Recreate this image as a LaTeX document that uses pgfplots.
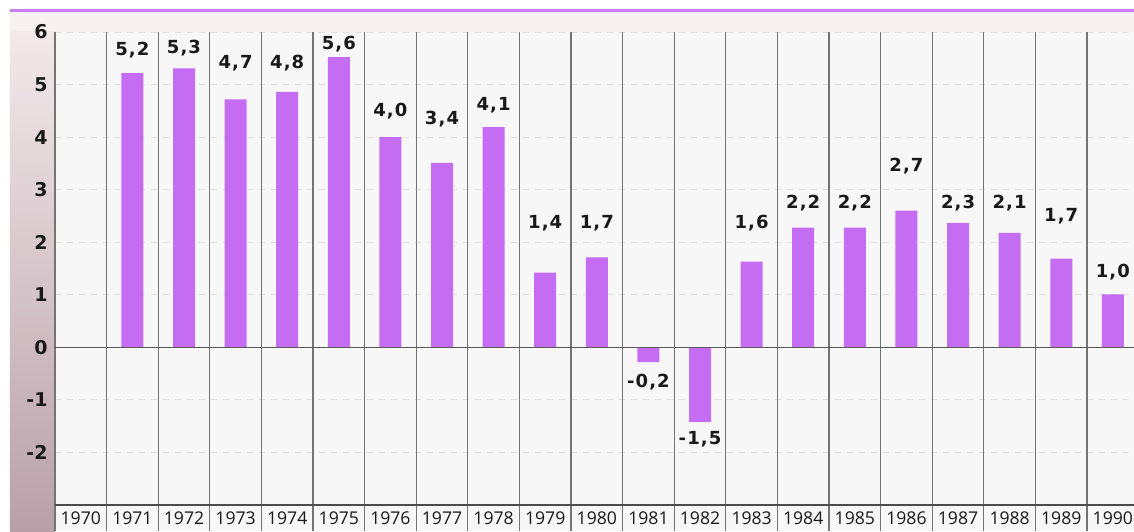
\documentclass[border=0pt]{standalone}
\usepackage{pgfplots}
\pgfplotsset{compat=1.18}
\usepackage{fontspec}
\setmainfont{Open Sans}
\newfontfamily\dejavu{DejaVu Sans}
\newfontfamily\dejavuls[LetterSpace=6]{DejaVu Sans}
\definecolor{barc}{HTML}{C46CF2}
\definecolor{topline}{HTML}{C77DF3}
\definecolor{sepc}{HTML}{747474}
\definecolor{plotbg}{HTML}{F8F7F7}
% bar values (y) as drawn
\pgfplotstableread{
x y
1 5.22
2 5.31
3 4.72
4 4.86
5 5.52
6 4.00
7 3.51
8 4.19
9 1.42
10 1.71
11 -0.28
12 -1.42
13 1.63
14 2.28
15 2.28
16 2.60
17 2.37
18 2.18
19 1.69
20 1.01
}\gdpbars
% label positions and printed values
\pgfplotstableread{
x ly lab
1 5.65 5,2
2 5.69 5,3
3 5.41 4,7
4 5.41 4,8
5 5.77 5,6
6 4.50 4,0
7 4.35 3,4
8 4.61 4,1
9 2.37 1,4
10 2.37 1,7
11 -0.66 -0,2
12 -1.75 -1,5
13 2.37 1,6
14 2.75 2,2
15 2.75 2,2
16 3.45 2,7
17 2.75 2,3
18 2.75 2,1
19 2.49 1,7
20 1.44 1,0
}\gdplabels
\begin{document}
\begin{tikzpicture}
% backgrounds
\fill[white] (-27.5pt,-13pt) rectangle (539.5pt,252.5pt);
\fill[plotbg] (0pt,-13pt) rectangle (539.5pt,236.5pt);
\fill[color={rgb,255:red,248;green,241;blue,241}] (-22.5pt,236.5pt) rectangle (539.5pt,246.5pt);
\shade[top color={rgb,255:red,242;green,233;blue,235}, bottom color={rgb,255:red,184;green,160;blue,168}] (-22.5pt,-13pt) rectangle (0pt,236.5pt);
\fill[topline] (-22.5pt,246.5pt) rectangle (539.5pt,248.2pt);
\begin{axis}[
  at={(0pt,0pt)}, anchor=south west,
  scale only axis, width=539.5pt, height=236.5pt,
  xmin=-0.5, xmax=20.41, ymin=-3, ymax=6,
  axis line style={draw=none},
  clip=false,
  xtick={0,...,20},
  xticklabels={1970,1971,1972,1973,1974,1975,1976,1977,1978,1979,1980,1981,1982,1983,1984,1985,1986,1987,1988,1989,1990},
  xticklabel style={font=\fontsize{8.8}{9}\selectfont, text=black!90, anchor=center, yshift=-6.6pt},
  ytick={-2,-1,0,1,2,3,4,5,6},
  yticklabels={-2,-1,0,1,2,3,4,5,6},
  yticklabel style={font=\dejavu\bfseries\fontsize{9.5}{10}\selectfont, text=black!90, inner xsep=3.5pt},
  major tick length=0pt,
  ymajorgrids,
  grid style={dashed, color=black!12, line width=0.5pt},
]
% separators
\pgfplotsinvokeforeach{0.5,1.5,...,19.5}{
  \draw[sepc, line width=0.6pt] (axis cs:#1,6) -- (axis cs:#1,-3);
  \draw[sepc, line width=0.6pt] (axis cs:#1,-3) -- ([yshift=-13pt]axis cs:#1,-3);
}
\draw[sepc, line width=0.7pt] (axis cs:-0.5,6) -- (axis cs:-0.5,-3);
\draw[sepc, line width=0.7pt] (axis cs:-0.5,-3) -- ([yshift=-13pt]axis cs:-0.5,-3);
\draw[black!70, line width=0.7pt] (axis cs:-0.5,-3) -- (axis cs:20.41,-3);
\addplot[ybar, bar width=11pt, fill=barc, draw=none] table[x=x, y=y] {\gdpbars};
\addplot[draw=none, mark=none, nodes near coords, point meta=explicit symbolic,
  nodes near coords align={center},
  every node near coord/.append style={anchor=center, inner sep=0pt, font=\dejavuls\bfseries\fontsize{9}{10}\selectfont, text=black!90}]
  table[x=x, y=ly, meta=lab] {\gdplabels};
\draw[black!65, line width=0.7pt] (axis cs:-0.5,0) -- (axis cs:20.41,0);
\end{axis}
\pgfresetboundingbox
\useasboundingbox (-27.5pt,-13pt) rectangle (539.5pt,252.5pt);
\end{tikzpicture}
\end{document}
